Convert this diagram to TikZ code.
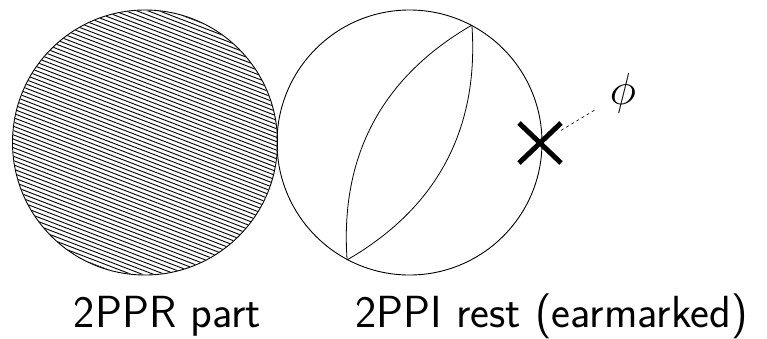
\RequirePackage{fix-cm}
\documentclass[tikz,border=0pt]{standalone}
\usepackage{fontspec}
\usetikzlibrary{shapes.misc}
\tikzset{
  disc/.style={circle, draw, line width=0.9pt, minimum size=265pt, inner sep=0pt},
  hatchline/.style={line width=0.9pt},
  lensarc/.style={line width=0.8pt},
  crossmark/.style={cross out, draw, line width=5pt, minimum width=37pt, minimum height=35pt, inner sep=0pt},
  big/.style={font=\fontsize{45}{54}\selectfont},
  caption/.style={anchor=base, font=\fontsize{45}{54}\selectfont\sffamily},
  pointer/.style={dashed, line width=0.6pt},
}
\begin{document}
\begin{tikzpicture}[x=1pt, y=-1pt]
  \useasboundingbox (0,0) rectangle (767,338);
  % hatching of the shaded part, clipped to its disc
  \coordinate (Lc) at (145,142.5);
  \begin{scope}
    \clip (Lc) circle (132);
    \begin{scope}[shift={(Lc)}, rotate=-21]
      \foreach \k in {-36,...,36}
        \draw[hatchline] (-150,\k*4) -- (150,\k*4);
    \end{scope}
  \end{scope}
  \node[disc] (L) at (Lc) {};
  % remaining part with lens
  \node[disc] (R) at (409.5,142.5) {};
  \coordinate (top) at (R.62);
  \coordinate (bot) at (R.242);
  \draw[lensarc] (top) to[bend left=32] (bot);
  \draw[lensarc] (top) to[bend right=32] (bot);
  % marked point
  \node[crossmark] (X) at (540,143) {};
  \node[big] (phi) at (623,93) {$\phi$};
  \draw[pointer, shorten >=13pt] (X) -- (phi);
  % captions
  \node[caption] (capL) at (167.5,327) {2PPR part};
  \node[caption] (capR) at (551.5,327) {2PPI rest (earmarked)};
\end{tikzpicture}
\end{document}
